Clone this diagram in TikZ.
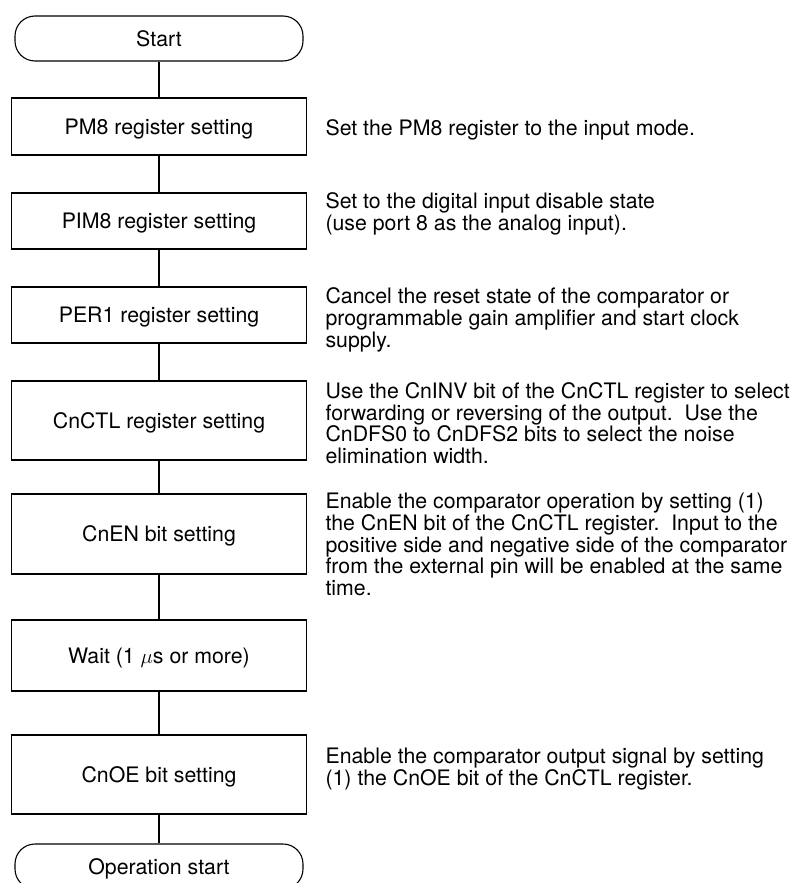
\documentclass[tikz,border=0pt]{standalone}
\usepackage{fontspec}
\setmainfont{TeX Gyre Heros}
\newcommand\firstln{\rule{0pt}{16pt}}
\begin{document}
\begin{tikzpicture}[x=1pt,y=-1pt, line width=1.1pt,
  every node/.style={font=\fontsize{21.3}{21.7}\selectfont},
  box/.style={draw, minimum width=295pt, inner sep=0pt, text height=15.3pt, text depth=0pt},
  term/.style={draw, rounded corners=20pt, minimum width=288pt, minimum height=45pt, inner sep=0pt, text height=15.3pt, text depth=0pt},
  desc/.style={anchor=north west, inner sep=0pt, align=left},
  link/.style={draw, line width=1.1pt}]
\useasboundingbox (0,0) rectangle (795,883);
\begin{scope}
\clip (0,0) rectangle (795,883);
\node[term] (start) at (159,38.5) {Start};
\node[box, minimum height=57pt] (pm8) at (159,126.5) {PM8 register setting};
\node[box, minimum height=56pt] (pim8) at (159,221) {PIM8 register setting};
\node[box, minimum height=56pt] (per1) at (159,315) {PER1 register setting};
\node[box, minimum height=79pt] (cnctl) at (159,420.5) {CnCTL register setting};
\node[box, minimum height=80pt] (cnen) at (159,534) {CnEN bit setting};
\node[box, minimum height=71pt] (wait) at (159,655.5) {Wait (1 $\mu$s or more)};
\node[box, minimum height=79pt] (cnoe) at (159,774.5) {CnOE bit setting};
\node[term] (opst) at (159,866.5) {Operation start};
\draw[link] (start) -- (pm8);
\draw[link] (pm8) -- (pim8);
\draw[link] (pim8) -- (per1);
\draw[link] (per1) -- (cnctl);
\draw[link] (cnctl) -- (cnen);
\draw[link] (cnen) -- (wait);
\draw[link] (wait) -- (cnoe);
\draw[link] (cnoe) -- (opst);
\end{scope}
\node[desc] (d1) at (325,119) {\firstln Set the PM8 register to the input mode.};
\node[desc] (d2) at (325,192) {\firstln Set to the digital input disable state\\(use port 8 as the analog input).};
\node[desc] (d3) at (325,287.3) {\firstln Cancel the reset state of the comparator or\\programmable gain amplifier and start clock\\supply.};
\node[desc] (d4) at (325,382) {\firstln Use the CnINV bit of the CnCTL register to select\\forwarding or reversing of the output.~~Use the\\CnDFS0 to CnDFS2 bits to select the noise\\elimination width.};
\node[desc] (d5) at (325,492.3) {\firstln Enable the comparator operation by setting (1)\\the CnEN bit of the CnCTL register.~~Input to the\\positive side and negative side of the comparator\\from the external pin will be enabled at the same\\time.};
\node[desc] (d6) at (325,747) {\firstln Enable the comparator output signal by setting\\(1) the CnOE bit of the CnCTL register.};
\end{tikzpicture}
\end{document}
